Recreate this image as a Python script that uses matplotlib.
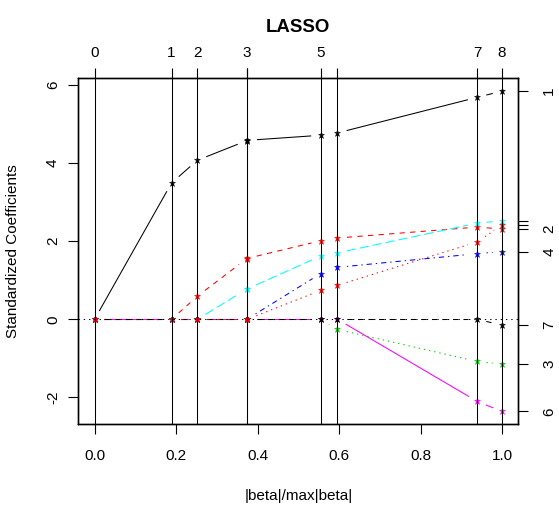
import numpy as np
import matplotlib
matplotlib.use("Agg")
import matplotlib.pyplot as plt

plt.rcParams['font.family'] = ['Liberation Sans', 'DejaVu Sans']
plt.rcParams['lines.scale_dashes'] = False

# ---- data: standardized coefficients at each LASSO step (steps 0..8) ----
coef_v1 = [0, 3.49, 4.07, 4.57, 4.58, 4.71, 4.77, 5.68, 5.84]
coef_v2 = [0, 0, 0.59, 1.55, 1.56, 2.01, 2.08, 2.36, 2.31]
coef_v3 = [0, 0, 0, 0, 0, 0, -0.26, -1.08, -1.15]
coef_v4 = [0, 0, 0, 0, 0.01, 1.17, 1.33, 1.68, 1.73]
coef_v5 = [0, 0, 0, 0.77, 0.78, 1.62, 1.70, 2.46, 2.52]
coef_v6 = [0, 0, 0, 0, 0, 0, 0, -2.10, -2.36]
coef_v7 = [0, 0, 0, 0, 0, 0, 0, 0, -0.15]
coef_v8 = [0, 0, 0, 0, 0, 0.74, 0.87, 1.98, 2.41]
variable_labels = ['1', '2', '3', '4', '5', '6', '7', '8']

title = 'LASSO'
xlabel = '|beta|/max|beta|'
ylabel = 'Standardized Coefficients'
xticks = [0.0, 0.2, 0.4, 0.6, 0.8, 1.0]
yticks = [-2, 0, 2, 4, 6]

coefs = np.array([coef_v1, coef_v2, coef_v3, coef_v4,
                  coef_v5, coef_v6, coef_v7, coef_v8]).T   # steps x vars
s = np.abs(coefs).sum(axis=1)
s = s / s.max()
df = (coefs != 0).sum(axis=1)

# R matplot default colours / line types (cycled)
colors = ['black', 'red', '#00CD00', 'blue', 'cyan', 'magenta', 'black', 'red']
U = 0.95
lt_solid = '-'
lt_dashed = (0, (4 * U, 4 * U))
lt_dotted = (0, (1 * U, 3 * U))
lt_dotdash = (0, (1 * U, 3 * U, 4 * U, 3 * U))
lt_longdash = (0, (7 * U, 3 * U))
styles = [lt_solid, lt_dashed, lt_dotted, lt_dotdash, lt_longdash,
          lt_solid, lt_dashed, lt_dotted]

W, H = 559, 523
fig = plt.figure(figsize=(W / 100, H / 100), dpi=100)
L, R, B, T = 78.3, 518.3, 424.3, 78.3
ax = fig.add_axes([L / W, 1 - B / H, (R - L) / W, (B - T) / H])

ax.set_xlim(-0.04, 1.04)
ymin, ymax = coefs.min(), coefs.max()
rng = ymax - ymin
ax.set_ylim(ymin - 0.04 * rng, ymax + 0.04 * rng)

LW = 0.75
GAP = 9.5  # pixels


def gapped(xs, ys, color, ls):
    pts = ax.transData.transform(np.column_stack([xs, ys]))
    inv = ax.transData.inverted()
    for i in range(len(pts) - 1):
        p, q = pts[i], pts[i + 1]
        d = q - p
        ln = np.hypot(*d)
        if ln <= 2 * GAP:
            continue
        u = d / ln
        seg = inv.transform(np.array([p + u * GAP, q - u * GAP]))
        ax.plot(seg[:, 0], seg[:, 1], color=color, ls=ls, lw=LW,
                solid_capstyle='butt', dash_capstyle='butt')


for j in range(coefs.shape[1]):
    gapped(s, coefs[:, j], colors[j], styles[j])
    ax.plot(s, coefs[:, j], ls='none', marker='*', ms=5,
            color=colors[j], mec=colors[j], mew=0.4)

ax.axhline(0, color='black', lw=LW, ls=lt_dotted)
for xv in s:
    ax.axvline(xv, color='black', lw=0.75)

for sp in ax.spines.values():
    sp.set_linewidth(0.9)

FS = 11
ax.set_xticks(xticks)
ax.set_xticklabels([f'{v:.1f}' for v in xticks])
ax.set_yticks(yticks)
ax.set_yticklabels([str(v) for v in yticks])
ax.tick_params(axis='x', direction='out', length=7.2, width=0.8,
               pad=10.5, labelsize=FS)
ax.tick_params(axis='y', direction='out', length=7.2, width=0.8,
               pad=6.0, labelsize=FS, labelrotation=90)
for lab in ax.get_yticklabels():
    lab.set_va('center')

# right axis: final coefficients, labels with overlap suppression
final = coefs[-1]
order = np.argsort(final)
rlabels = [''] * len(final)
last = None
px_per_unit = (B - T) / (ax.get_ylim()[1] - ax.get_ylim()[0])
for k in order:
    if last is None or (final[k] - last) * px_per_unit > 18:
        rlabels[k] = variable_labels[k]
        last = final[k]
ax2 = ax.twinx()
ax2.set_ylim(ax.get_ylim())
ax2.set_yticks(final)
ax2.set_yticklabels(rlabels)
ax2.tick_params(axis='y', direction='out', length=7.2, width=0.8,
                pad=10.0, labelsize=FS, labelrotation=90)
for lab in ax2.get_yticklabels():
    lab.set_va('center')

# top axis: breakpoints with df labels
tlabels = [''] * len(s)
lastx = None
pxx = (R - L) / 1.08
for k in np.argsort(s):
    if lastx is None or (s[k] - lastx) * pxx > 20:
        tlabels[k] = str(df[k])
        lastx = s[k]
ax3 = ax.twiny()
ax3.set_xlim(ax.get_xlim())
ax3.set_xticks(s)
ax3.set_xticklabels(tlabels)
ax3.tick_params(axis='x', direction='out', length=7.2, width=0.8,
                pad=6.0, labelsize=FS)
for a in (ax2, ax3):
    for sp in a.spines.values():
        sp.set_linewidth(0.9)

cx = (L + R) / 2 / W
fig.text(cx, 1 - 31.7 / H, title, ha='center', va='baseline',
         fontsize=13.4, fontweight='bold')
fig.text(cx, 1 - 500 / H, xlabel, ha='center', va='baseline', fontsize=FS)
fig.text(16.7 / W, 1 - (T + B) / 2 / H, ylabel, ha='center', va='baseline',
         rotation=90, rotation_mode='anchor', fontsize=FS)

fig.savefig('out.png', dpi=100, facecolor='white')
